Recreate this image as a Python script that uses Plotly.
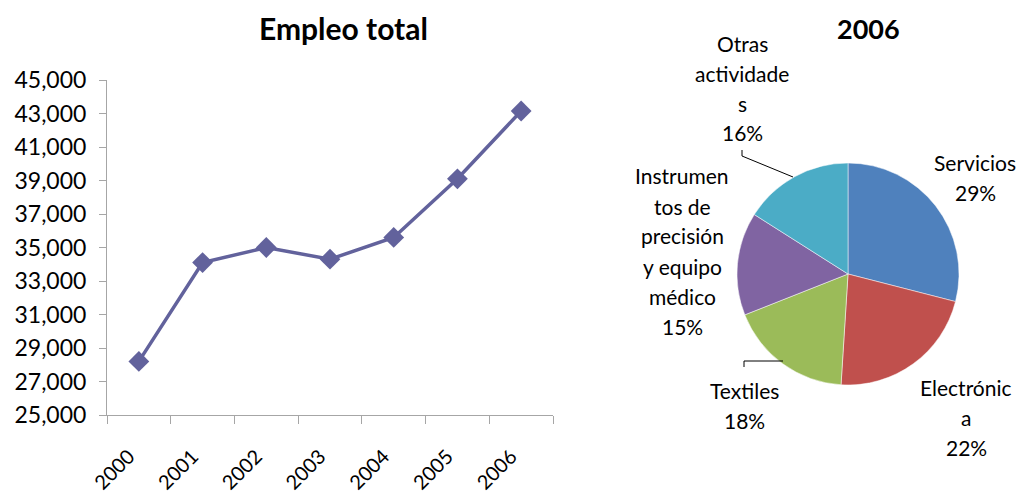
import plotly.graph_objects as go

# ── Data ──────────────────────────────────────────────────────────────────────
years = ["2000", "2001", "2002", "2003", "2004", "2005", "2006"]
empleo_total = [28200, 34100, 35000, 34300, 35600, 39100, 43150]
y_ticks = list(range(25000, 45001, 2000))

sectores = [
    "Servicios",
    "Electrónica",
    "Textiles",
    "Instrumentos de precisión y equipo médico",
    "Otras actividades",
]
participacion_2006 = [29, 22, 18, 15, 16]
# label lines as wrapped in the original
etiquetas_pie = [
    ["Servicios", "29%"],
    ["Electrónic", "a", "22%"],
    ["Textiles", "18%"],
    ["Instrumen", "tos de", "precisión", "y equipo", "médico", "15%"],
    ["Otras", "actividade", "s", "16%"],
]

_PALETTE = {
    "line": "#62629C",
    "axis": "#A6A6A6",
    "slices": ["#4F81BD", "#C0504D", "#9BBB59", "#8064A2", "#4BACC6"],
}
FONT = "Lato, 'Open Sans', sans-serif"

# the page body has an 8px margin, so the figure is drawn 8px in and is sized
# to fill the rest of the 1024x496 window
OFF = 8
W, H = 1024 - OFF, 496 - OFF


def px(x):
    return (x - OFF) / W


def py(y):
    return 1 - (y - OFF) / H


fig = go.Figure()

# ── Line chart ────────────────────────────────────────────────────────────────
fig.add_trace(go.Scatter(
    x=years,
    y=empleo_total,
    mode="lines+markers",
    line=dict(color=_PALETTE["line"], width=3.5),
    marker=dict(symbol="diamond", size=16, color=_PALETTE["line"]),
    showlegend=False,
    hovertemplate="%{x}: %{y:,}<extra></extra>",
))

# ── Pie chart ─────────────────────────────────────────────────────────────────
cx, cy, r = 848, 274, 111
fig.add_trace(go.Pie(
    labels=sectores,
    values=participacion_2006,
    sort=False,
    direction="clockwise",
    rotation=0,
    textinfo="none",
    marker=dict(colors=_PALETTE["slices"], line=dict(color="white", width=0.5)),
    domain=dict(x=[px(cx - r), px(cx + r)], y=[py(cy + r), py(cy - r)]),
    showlegend=False,
))

# first-line centre of each pie label, in window pixels
label_pos = [(975, 162), (966, 387), (744, 390), (682, 176), (742, 43)]
LINE_H = 30
annotations = []
for lines, (lx, ly) in zip(etiquetas_pie, label_pos):
    for i, line in enumerate(lines):
        annotations.append(dict(
            text=line, x=px(lx), y=py(ly + i * LINE_H), xref="paper", yref="paper",
            showarrow=False, xanchor="center", yanchor="middle",
            font=dict(size=21, color="black", family=FONT),
        ))

# chart titles
annotations += [
    dict(text="<b>Empleo total</b>", x=px(343), y=py(28), xref="paper", yref="paper",
         showarrow=False, xanchor="center", yanchor="middle",
         font=dict(size=30, color="black", family=FONT)),
    dict(text="<b>2006</b>", x=px(868), y=py(28), xref="paper", yref="paper",
         showarrow=False, xanchor="center", yanchor="middle",
         font=dict(size=27, color="black", family=FONT)),
]

# leader lines
leaders = [
    [(742, 150), (742, 156), (793, 177)],
    [(744, 367), (744, 361), (783, 361)],
]
shapes = []
for pts in leaders:
    for (x0, y0), (x1, y1) in zip(pts[:-1], pts[1:]):
        shapes.append(dict(type="line", xref="paper", yref="paper",
                           x0=px(x0), y0=py(y0), x1=px(x1), y1=py(y1),
                           line=dict(color="black", width=1)))

fig.update_layout(
    width=W, height=H,
    margin=dict(l=0, r=0, t=0, b=0),
    paper_bgcolor="white",
    plot_bgcolor="white",
    font=dict(family=FONT, color="black"),
    annotations=annotations,
    shapes=shapes,
    xaxis=dict(
        domain=[px(107), px(553)],
        type="category",
        range=[-0.5, 6.5],
        tickson="boundaries",
        ticks="outside", ticklen=8, tickcolor=_PALETTE["axis"],
        showline=True, linecolor=_PALETTE["axis"], linewidth=1,
        showgrid=False, zeroline=False,
        tickangle=-45,
        ticklabelstandoff=21,
        ticklabelshift=-10,
        automargin=False,
        tickfont=dict(size=20, family=FONT),
    ),
    yaxis=dict(
        domain=[py(415), py(80)],
        range=[25000, 45000],
        tickvals=y_ticks,
        tickformat=",",
        ticks="outside", ticklen=7, tickcolor=_PALETTE["axis"],
        showline=True, linecolor=_PALETTE["axis"], linewidth=1,
        showgrid=False, zeroline=False,
        ticklabelstandoff=8,
        automargin=False,
        tickfont=dict(size=23, family=FONT),
    ),
)

fig.write_html("out.html")
